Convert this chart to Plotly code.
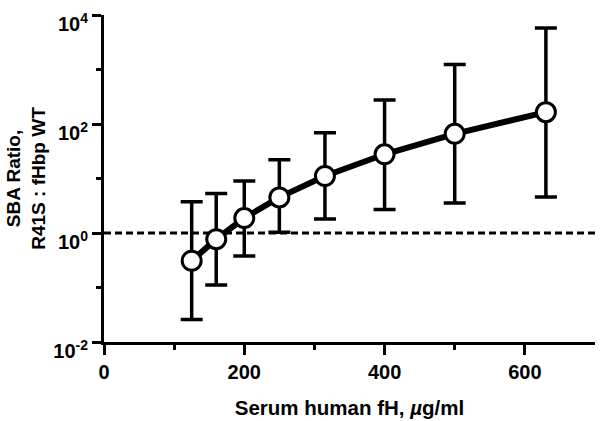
import plotly.graph_objects as go

fh = [125, 160, 200, 250, 315, 400, 500, 630]
ratio = [0.31, 0.77, 1.88, 4.5, 11.1, 27.8, 66, 165]
upper = [3.75, 5.3, 9.0, 22, 69, 276, 1230, 5750]
lower = [0.026, 0.111, 0.38, 1.03, 1.8, 2.7, 3.55, 4.6]
ref_x = [0, 700]
ref_y = [1, 1]
ytick_vals = [0.01, 1, 100, 10000]
ytick_text = ["10<sup>-2</sup>", "10<sup>0</sup>", "10<sup>2</sup>", "10<sup>4</sup>"]
ytick_minor = [0.1, 10, 1000]
xtick_vals = [0, 200, 400, 600]
xtick_minor = [100, 300, 500]

err_plus = [u - r for u, r in zip(upper, ratio)]
err_minus = [r - l for r, l in zip(ratio, lower)]

fig = go.Figure()
fig.add_trace(go.Scatter(x=ref_x, y=ref_y, mode="lines",
                         line=dict(color="black", width=3, dash="7px,4px"),
                         hoverinfo="skip", showlegend=False))
fig.add_trace(go.Scatter(
    x=fh, y=ratio, mode="lines+markers",
    line=dict(color="black", width=6),
    marker=dict(size=19, color="white", line=dict(color="black", width=3)),
    error_y=dict(type="data", symmetric=False, array=err_plus, arrayminus=err_minus,
                 color="black", thickness=3.5, width=11),
    cliponaxis=False, showlegend=False))

fam = "Liberation Sans, Arial, sans-serif"
tfont = dict(family=fam, color="black", size=20, weight="bold")
ytitlefont = dict(family=fam, color="black", size=19, weight="bold")
xtitlefont = dict(family=fam, color="black", size=20.5, weight="bold")
fig.update_layout(
    width=601, height=421,
    margin=dict(l=104, r=6, t=15, b=79),
    paper_bgcolor="white", plot_bgcolor="white",
    font=tfont,
    xaxis=dict(range=[0, 700], showgrid=False, zeroline=False, automargin=False,
               showline=True, linecolor="black", linewidth=3,
               ticks="outside", ticklen=10, tickwidth=3, tickcolor="black",
               tickvals=xtick_vals, ticktext=[str(v) for v in xtick_vals],
               tickfont=tfont, ticklabeloverflow="allow",
               minor=dict(tickvals=xtick_minor, ticks="outside", ticklen=5, tickwidth=3, tickcolor="black"),
               title=dict(text="Serum human fH, <i>µ</i>g/ml", font=xtitlefont, standoff=19)),
    yaxis=dict(type="log", range=[-2, 4], showgrid=False, zeroline=False, automargin=False,
               showline=True, linecolor="black", linewidth=3,
               ticks="outside", ticklen=9, tickwidth=3, tickcolor="black",
               tickvals=ytick_vals, ticktext=ytick_text, tickfont=tfont,
               ticklabeloverflow="allow", ticklabelshift=9,
               minor=dict(tickvals=ytick_minor, ticks="outside", ticklen=5, tickwidth=3, tickcolor="black"),
               title=dict(text="SBA Ratio,<br>R41S : fHbp WT", font=ytitlefont, standoff=3)),
)
fig.write_html("out.html", config={"displayModeBar": False},
               post_script="document.body.style.margin='0';")
